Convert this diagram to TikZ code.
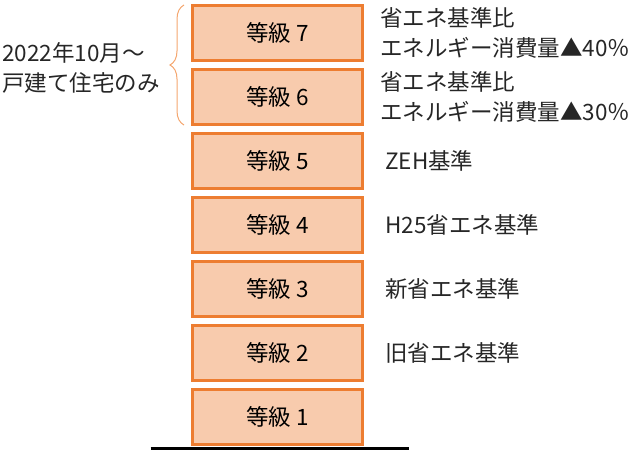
\documentclass[tikz,border=0pt]{standalone}
\usepackage{fontspec}
\setmainfont{Noto Sans CJK JP}
\usetikzlibrary{positioning,decorations.pathreplacing,calc}

\definecolor{lvlfill}{HTML}{F8CBAD}
\definecolor{lvldraw}{HTML}{ED7D31}
\definecolor{bracec}{HTML}{F4A66E}

\begin{document}
\begin{tikzpicture}[
  x=1pt, y=-1pt,
  font=\fontsize{22.5}{30}\selectfont,
  lvl/.style={draw=lvldraw, fill=lvlfill, line width=3pt,
              minimum width=170pt, minimum height=55pt, inner sep=0pt},
  note/.style={anchor=west, align=left, inner sep=0pt, text=black!85},
  node distance=6pt,
]
\useasboundingbox (0,0) rectangle (640,450);
% stack of grades
\node[lvl] (b7) at (277.5,33) {等級 7};
\node[lvl, below=of b7] (b6) {等級 6};
\node[lvl, below=of b6] (b5) {等級 5};
\node[lvl, below=of b5] (b4) {等級 4};
\node[lvl, below=of b4] (b3) {等級 3};
\node[lvl, below=of b3] (b2) {等級 2};
\node[lvl, below=of b2] (b1) {等級 1};
% ground
\coordinate (gl) at ($(b1.south)+(-127,2)$);
\coordinate (gr) at ($(b1.south)+(131,2)$);
\draw[line width=3pt] (gl) -- (gr);

% notes on the right
\node[note] (n7) at (380,33) {省エネ基準比\\エネルギー消費量▲40％};
\node[note] (n6) at (380,97) {省エネ基準比\\エネルギー消費量▲30％};
\node[note] (n5) at (385,161) {ZEH基準};
\node[note] (n4) at (385,225) {H25省エネ基準};
\node[note] (n3) at (385,289) {新省エネ基準};
\node[note] (n2) at (385,353) {旧省エネ基準};

% brace for grades 6 and 7
\draw[bracec, line width=1pt, decorate, decoration={brace, amplitude=14pt}]
  ($(b6.south west)+(-7,-1)$) -- ($(b7.north west)+(-7,1)$);
\node[note] (since) at (2,68) {2022年10月～\\戸建て住宅のみ};
\end{tikzpicture}
\end{document}
